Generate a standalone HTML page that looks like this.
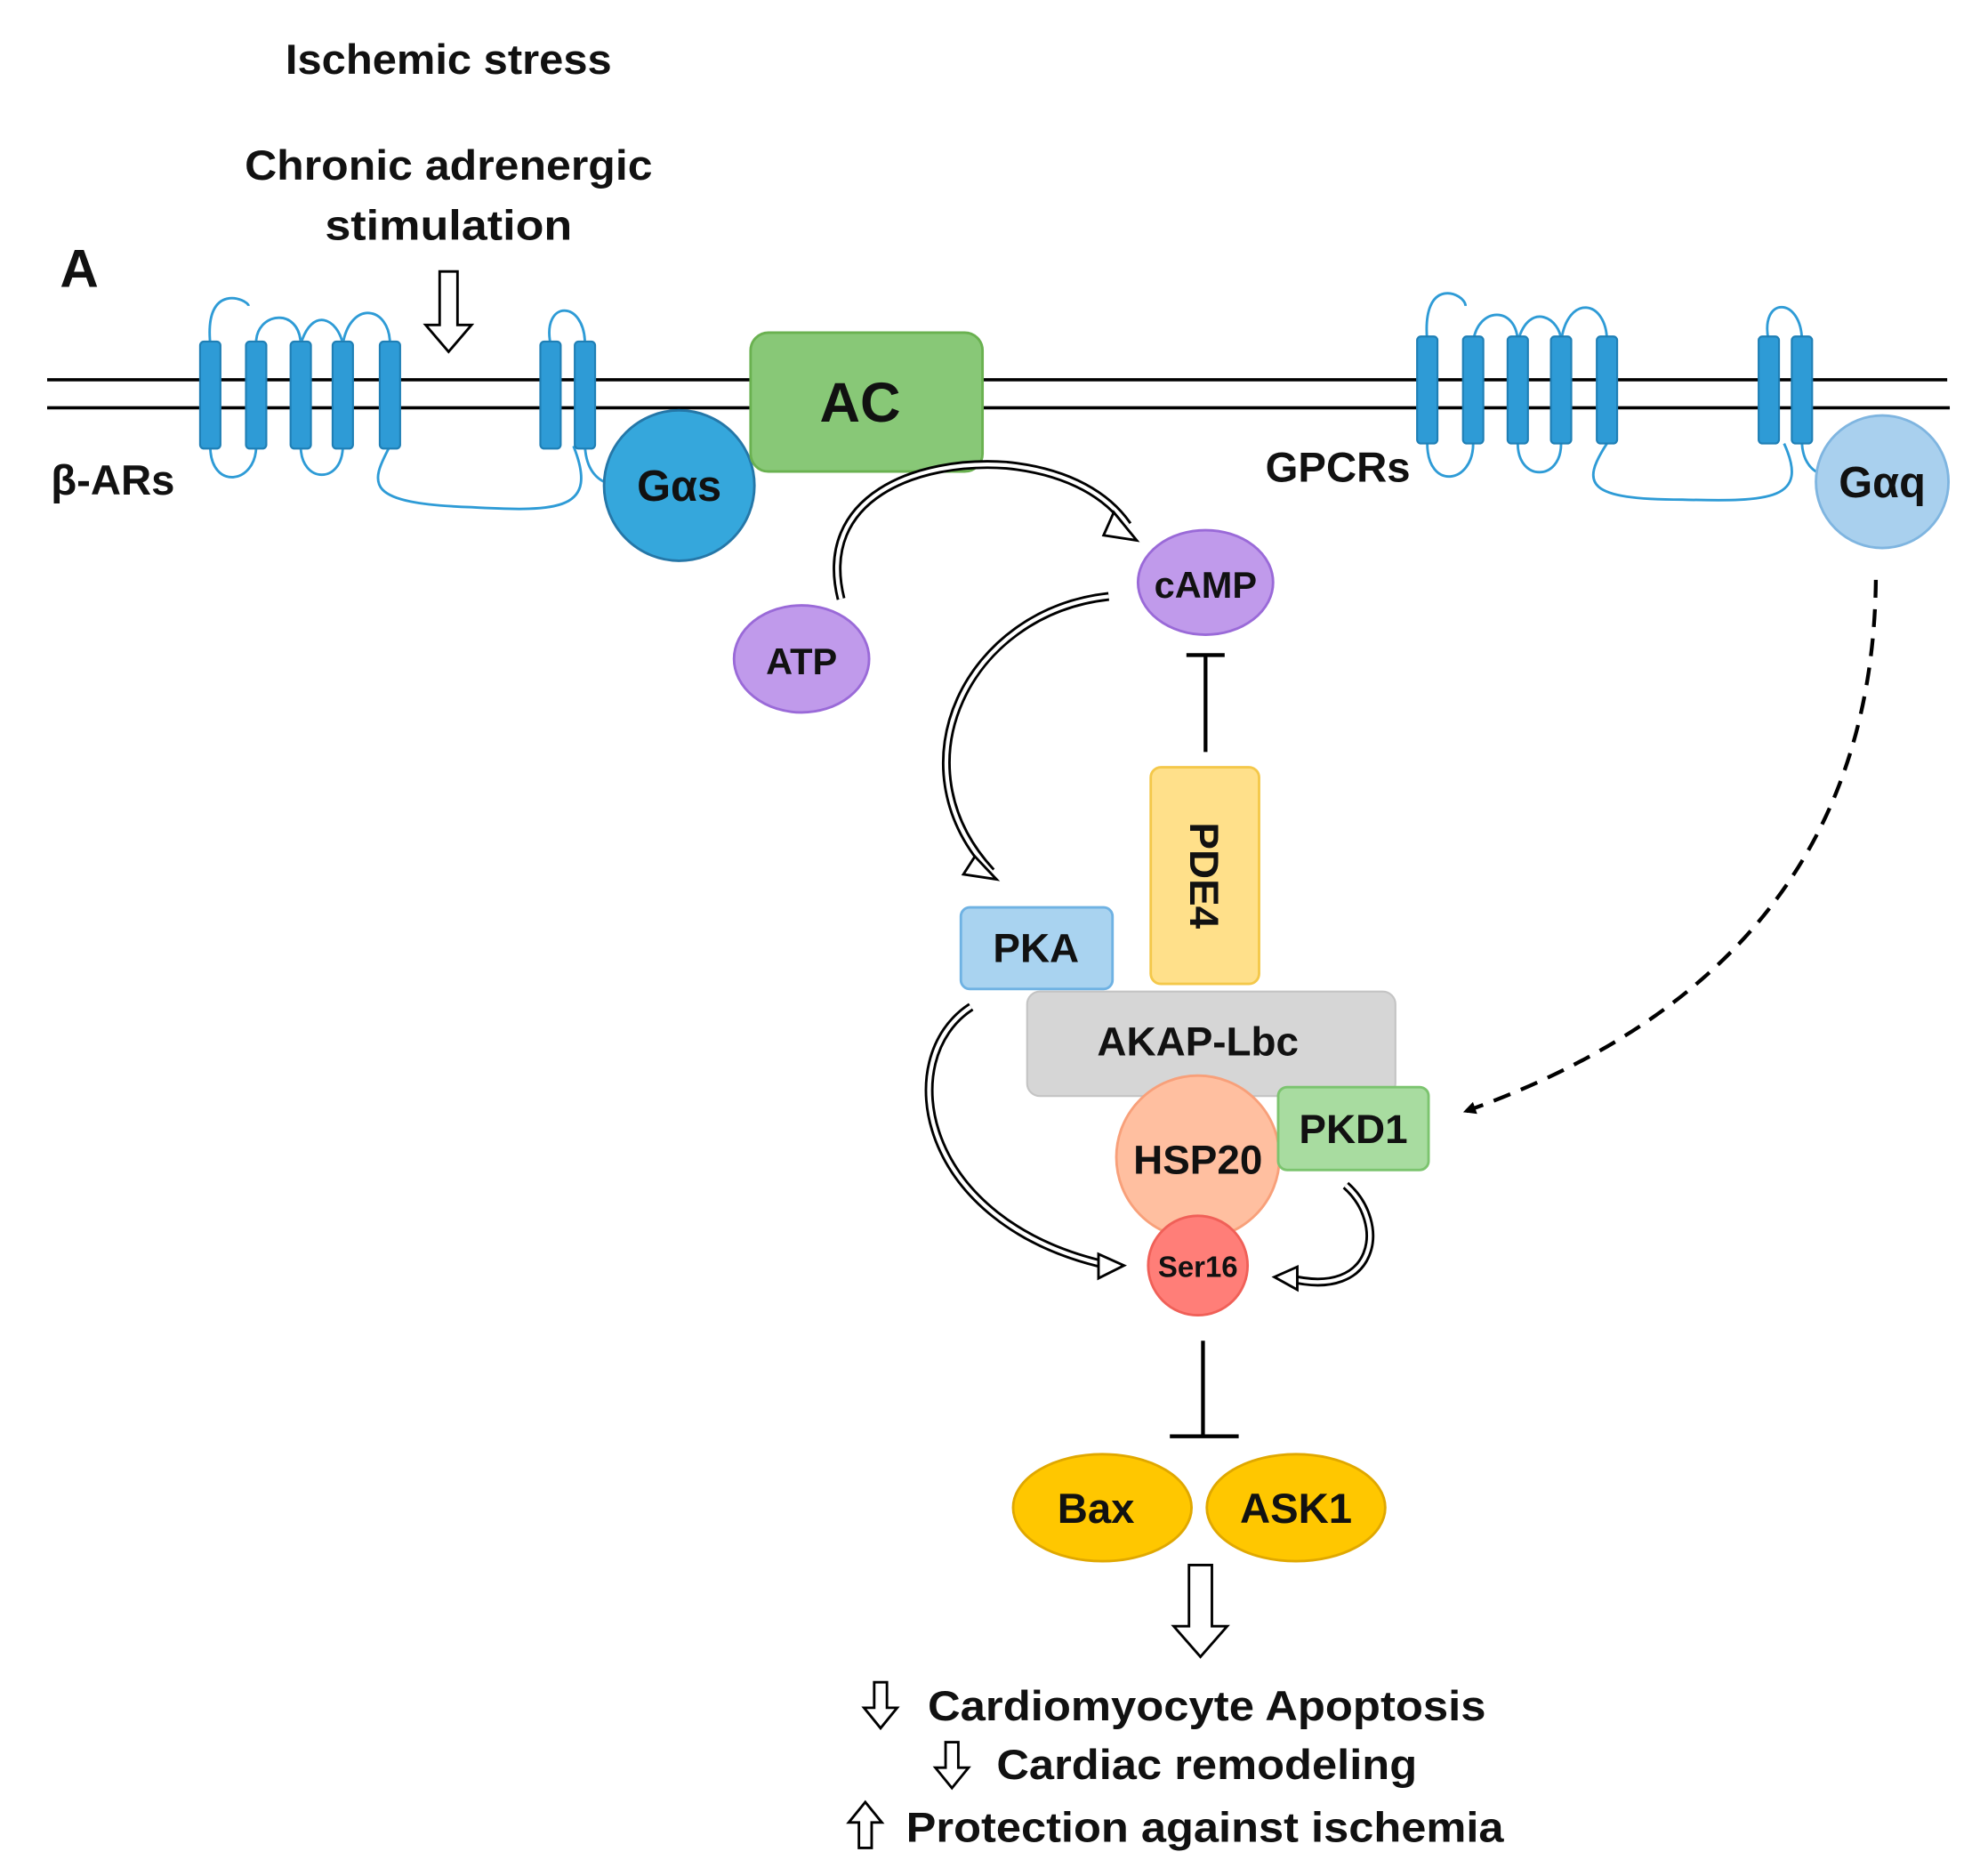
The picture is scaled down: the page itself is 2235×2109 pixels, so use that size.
<!DOCTYPE html>
<html><head><meta charset="utf-8"><style>
html,body{margin:0;padding:0;background:#fff}
svg{display:block}
text{font-family:"Liberation Sans",sans-serif;font-weight:bold;fill:#111}
</style></head><body>
<svg width="2235" height="2109" viewBox="0 0 1560 1472" preserveAspectRatio="none" xmlns="http://www.w3.org/2000/svg">
<defs>
<marker id="dh" markerWidth="10" markerHeight="10" refX="8" refY="5" orient="auto" markerUnits="userSpaceOnUse"><path d="M0,0 L10,5 L0,10 z" fill="#000"/></marker>
</defs>
<text x="224" y="58" font-size="33" textLength="256" lengthAdjust="spacingAndGlyphs">Ischemic stress</text>
<text x="192" y="141" font-size="33" textLength="320" lengthAdjust="spacingAndGlyphs">Chronic adrenergic</text>
<text x="255" y="188" font-size="33" textLength="194" lengthAdjust="spacingAndGlyphs">stimulation</text>
<text x="47" y="225" font-size="42">A</text>
<path d="M345,213 L359,213 L359,255 L370,255 L352,276 L334,255 L345,255 Z" fill="#fff" stroke="#000" stroke-width="2"/>
<line x1="37" y1="298" x2="1528" y2="298" stroke="#000" stroke-width="2.5"/>
<line x1="37" y1="320" x2="1530" y2="320" stroke="#000" stroke-width="2.5"/>
<g fill="none" stroke="#2E9BD6" stroke-width="2">
<path d="M165,270 C160,220 195,235 195,240 M201,270 C200,245 235,240 236,270 M236,270 C245,240 265,250 269,270 M269,270 C275,235 306,240 306,270"/>
<path d="M165,350 C165,385 201,380 201,350 M236,350 C236,380 269,380 269,350 M306,350 C290,380 285,395 370,398 C440,402 470,400 450,350"/>
<path d="M432,270 C425,235 459,235 459,270 M459,350 C460,370 470,378 480,380"/>
<path d="M1120,268 C1115,215 1150,230 1150,240 M1156,268 C1160,240 1190,240 1191,268 M1191,268 C1200,235 1225,250 1225,268 M1225,268 C1230,230 1261,235 1261,268"/>
<path d="M1120,348 C1120,385 1156,380 1156,348 M1191,348 C1191,378 1225,378 1225,348 M1261,348 C1240,380 1245,392 1320,392 C1390,394 1420,392 1400,348"/>
<path d="M1388,268 C1380,232 1414,232 1414,268 M1414,348 C1415,365 1425,372 1432,372"/>
</g>
<g fill="#2E9BD6" stroke="#1f7fb5" stroke-width="1.5">
<rect x="157" y="268" width="16" height="84" rx="3"/><rect x="193" y="268" width="16" height="84" rx="3"/><rect x="228" y="268" width="16" height="84" rx="3"/><rect x="261" y="268" width="16" height="84" rx="3"/><rect x="298" y="268" width="16" height="84" rx="3"/>
<rect x="424" y="268" width="16" height="84" rx="3"/><rect x="451" y="268" width="16" height="84" rx="3"/>
<rect x="1112" y="264" width="16" height="84" rx="3"/><rect x="1148" y="264" width="16" height="84" rx="3"/><rect x="1183" y="264" width="16" height="84" rx="3"/><rect x="1217" y="264" width="16" height="84" rx="3"/><rect x="1253" y="264" width="16" height="84" rx="3"/>
<rect x="1380" y="264" width="16" height="84" rx="3"/><rect x="1406" y="264" width="16" height="84" rx="3"/>
</g>
<text x="40" y="388" font-size="33">β-ARs</text>
<text x="993" y="378" font-size="33">GPCRs</text>
<circle cx="533" cy="381" r="59" fill="#35A7DC" stroke="#2577a8" stroke-width="2"/>
<text x="533" y="393" font-size="34" text-anchor="middle">Gαs</text>
<rect x="589" y="261" width="182" height="109" rx="14" fill="#88C877" stroke="#6ab150" stroke-width="2"/>
<text x="675" y="331" font-size="44" text-anchor="middle">AC</text>
<circle cx="1477" cy="378" r="52" fill="#A9D0EE" stroke="#7fb5e0" stroke-width="2"/>
<text x="1477" y="390" font-size="34" text-anchor="middle">Gαq</text>
<g fill="none">
<path d="M660,470 C640,390 720,360 790,365 C840,370 870,390 885,412" stroke="#000" stroke-width="7"/>
<path d="M660,470 C640,390 720,360 790,365 C840,370 870,390 885,412" stroke="#fff" stroke-width="3"/>
<path d="M870,468 C760,480 700,600 778,684" stroke="#000" stroke-width="7"/>
<path d="M870,468 C760,480 700,600 778,684" stroke="#fff" stroke-width="3"/>
<path d="M762,790 C700,830 720,960 870,993" stroke="#000" stroke-width="7"/>
<path d="M762,790 C700,830 720,960 870,993" stroke="#fff" stroke-width="3"/>
<path d="M1056,930 C1090,960 1080,1020 1012,1003" stroke="#000" stroke-width="7"/>
<path d="M1056,930 C1090,960 1080,1020 1012,1003" stroke="#fff" stroke-width="3"/>
</g>
<g fill="#fff" stroke="#000" stroke-width="2">
<path d="M874,402 L892,424 L866,420 Z"/>
<path d="M765,672 L782,690 L756,686 Z"/>
<path d="M862,984 L882,993 L862,1003 Z"/>
<path d="M1018,994 L1000,1002 L1018,1012 Z"/>
</g>
<ellipse cx="946" cy="457" rx="53" ry="41" fill="#C09AEB" stroke="#9a6ad8" stroke-width="2"/>
<text x="946" y="469" font-size="29" text-anchor="middle">cAMP</text>
<ellipse cx="629" cy="517" rx="53" ry="42" fill="#C09AEB" stroke="#9a6ad8" stroke-width="2"/>
<text x="629" y="529" font-size="29" text-anchor="middle">ATP</text>
<line x1="946" y1="514" x2="946" y2="590" stroke="#000" stroke-width="3"/>
<line x1="931" y1="514" x2="961" y2="514" stroke="#000" stroke-width="3"/>
<rect x="903" y="602" width="85" height="170" rx="8" fill="#FFE08A" stroke="#F4C84A" stroke-width="2"/>
<text x="0" y="0" font-size="32" text-anchor="middle" transform="translate(934,687) rotate(90)">PDE4</text>
<path d="M1472,455 C1470,640 1380,790 1150,872" fill="none" stroke="#000" stroke-width="3" stroke-dasharray="14,9" marker-end="url(#dh)"/>
<rect x="754" y="712" width="119" height="64" rx="7" fill="#A9D3F0" stroke="#6fb2e3" stroke-width="2"/>
<text x="813" y="755" font-size="32" text-anchor="middle">PKA</text>
<rect x="806" y="778" width="289" height="82" rx="10" fill="#D6D6D6" stroke="#c4c4c4" stroke-width="1.5"/>
<text x="940" y="828" font-size="32" text-anchor="middle">AKAP-Lbc</text>
<circle cx="940" cy="908" r="64" fill="#FFBFA0" stroke="#F8A07A" stroke-width="2"/>
<text x="940" y="921" font-size="32" text-anchor="middle">HSP20</text>
<rect x="1003" y="853" width="118" height="65" rx="7" fill="#A8DCA0" stroke="#7cc46f" stroke-width="2"/>
<text x="1062" y="897" font-size="32" text-anchor="middle">PKD1</text>
<circle cx="940" cy="993" r="39" fill="#FF7E78" stroke="#f06058" stroke-width="2"/>
<text x="940" y="1002" font-size="23" text-anchor="middle">Ser16</text>
<line x1="944" y1="1052" x2="944" y2="1127" stroke="#000" stroke-width="3"/>
<line x1="918" y1="1127" x2="972" y2="1127" stroke="#000" stroke-width="3"/>
<ellipse cx="865" cy="1183" rx="70" ry="42" fill="#FFC700" stroke="#e0a800" stroke-width="2"/>
<text x="860" y="1195" font-size="33" text-anchor="middle">Bax</text>
<ellipse cx="1017" cy="1183" rx="70" ry="42" fill="#FFC700" stroke="#e0a800" stroke-width="2"/>
<text x="1017" y="1195" font-size="33" text-anchor="middle">ASK1</text>
<path d="M933,1228 L951,1228 L951,1276 L963,1276 L942,1300 L921,1276 L933,1276 Z" fill="#fff" stroke="#000" stroke-width="2"/>
<g fill="#fff" stroke="#000" stroke-width="2">
<path d="M686,1320 L696,1320 L696,1340 L704,1340 L691,1356 L678,1340 L686,1340 Z"/>
<path d="M742,1367 L752,1367 L752,1387 L760,1387 L747,1403 L734,1387 L742,1387 Z"/>
<path d="M674,1450 L684,1450 L684,1430 L692,1430 L679,1414 L666,1430 L674,1430 Z"/>
</g>
<text x="728" y="1350" font-size="33" textLength="438" lengthAdjust="spacingAndGlyphs">Cardiomyocyte Apoptosis</text>
<text x="782" y="1396" font-size="33" textLength="330" lengthAdjust="spacingAndGlyphs">Cardiac remodeling</text>
<text x="711" y="1445" font-size="33" textLength="469" lengthAdjust="spacingAndGlyphs">Protection against ischemia</text>
</svg>
</body></html>
